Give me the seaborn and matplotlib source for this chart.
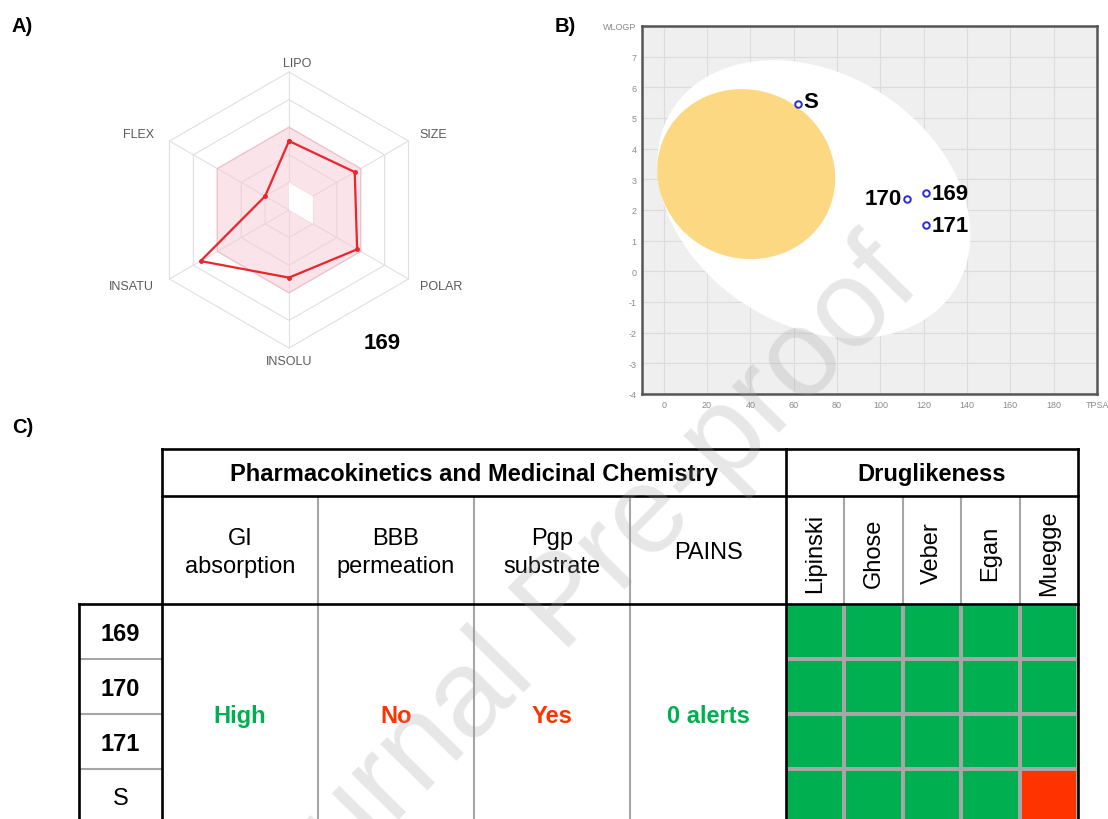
import numpy as np
import pandas as pd
import matplotlib
matplotlib.use("Agg")
import matplotlib.pyplot as plt
from matplotlib.colors import ListedColormap
from matplotlib.patches import Polygon
import seaborn as sns

# ---- data -------------------------------------------------------------
RADAR_AXES = ["LIPO", "SIZE", "POLAR", "INSOLU", "INSATU", "FLEX"]
RADAR_169 = [0.50, 0.55, 0.57, 0.49, 0.74, 0.20]
OPT_LOW = [0.2, 0.2, 0.2, 0.0, 0.0, 0.0]
OPT_HIGH = [0.6, 0.6, 0.6, 0.6, 0.6, 0.6]
RADAR_NAME = "169"

EGG_LABELS = ["S", "170", "169", "171"]
EGG_TPSA = [61.8, 112.3, 121.0, 121.0]
EGG_WLOGP = [5.45, 2.36, 2.54, 1.50]

COMPOUNDS = ["169", "170", "171", "S"]
PK_HEADERS = ["GI\nabsorption", "BBB\npermeation", "Pgp\nsubstrate", "PAINS"]
PK_VALUES = ["High", "No", "Yes", "0 alerts"]
PK_GOOD = [True, False, False, True]
DL_RULES = ["Lipinski", "Ghose", "Veber", "Egan", "Muegge"]
LIPINSKI = [1, 1, 1, 1]
GHOSE = [1, 1, 1, 1]
VEBER = [1, 1, 1, 1]
EGAN = [1, 1, 1, 1]
MUEGGE = [1, 1, 1, 0]

GREEN = "#00b050"
RED = "#ff3300"

W, H = 1108, 820


def box(l, t, r, b):
    return [l / W, 1 - b / H, (r - l) / W, (b - t) / H]


sns.set_theme(style="white")
plt.rcParams["font.family"] = ["Liberation Sans", "DejaVu Sans"]
plt.rcParams["text.color"] = "black"

fig = plt.figure(figsize=(W / 100, H / 100), dpi=100)

# ---- A) bioavailability radar ----------------------------------------
cx, cy, rpx = 289, 211, 138
axr = fig.add_axes(box(60, 40, 520, 392))
axr.set_xlim((60 - cx) / rpx, (520 - cx) / rpx)
axr.set_ylim((cy - 392) / rpx, (cy - 40) / rpx)
axr.axis("off")
ang = np.deg2rad([90, 30, -30, -90, -150, 150])
ux, uy = np.cos(ang), np.sin(ang)


def hexa(r):
    r = np.asarray(r, dtype=float) * np.ones(6)
    return np.column_stack([r * ux, r * uy])


for r in [0.2, 0.4, 0.6, 0.8, 1.0]:
    p = hexa(r)
    axr.plot(np.r_[p[:, 0], p[0, 0]], np.r_[p[:, 1], p[0, 1]], color="#e0e0e0", lw=0.8, zorder=1)
for i in range(6):
    axr.plot([0, ux[i]], [0, uy[i]], color="#e0e0e0", lw=0.8, zorder=1)
axr.add_patch(Polygon(hexa(OPT_HIGH), closed=True, facecolor="#f9c9d6", alpha=0.5,
                      edgecolor="#f2a9bb", lw=1, zorder=2))
axr.add_patch(Polygon(hexa(OPT_LOW), closed=True, facecolor="white", edgecolor="none", zorder=3))
pts = hexa(RADAR_169)
axr.plot(np.r_[pts[:, 0], pts[0, 0]], np.r_[pts[:, 1], pts[0, 1]], color="#e8262b",
         lw=1.6, marker="o", ms=2.5, zorder=4)
for i, lab in enumerate(RADAR_AXES):
    x, y = ux[i], uy[i]
    if abs(x) < 0.1:
        if y > 0:
            axr.text(x + 0.06, y + 0.02, lab, ha="center", va="bottom", fontsize=9, color="#5a5a5a")
        else:
            axr.text(x, y - 0.05, lab, ha="center", va="top", fontsize=9, color="#5a5a5a")
    else:
        axr.text(x + (0.08 if x > 0 else -0.11), y + (0.05 if y > 0 else -0.05), lab,
                 ha="left" if x > 0 else "right", va="center", fontsize=9, color="#5a5a5a")
axr.text((382 - cx) / rpx, (cy - 344) / rpx, RADAR_NAME, ha="center", va="center",
         fontsize=16, fontweight="bold", color="black")

# ---- B) BOILED-Egg ------------------------------------------------------
axe = fig.add_axes(box(642, 27, 1097, 395))
xlim, ylim = (-10, 200), (-4, 8)
axe.set_xlim(*xlim)
axe.set_ylim(*ylim)
px_x = (1097 - 642) / (xlim[1] - xlim[0])
px_y = (395 - 27) / (ylim[1] - ylim[0])
axe.set_facecolor("#efefef")
axe.set_xticks(range(0, 201, 20))
axe.set_xticklabels([str(v) for v in range(0, 181, 20)] + ["TPSA"])
axe.set_yticks(range(-4, 9))
axe.set_yticklabels([str(v) for v in range(-4, 8)] + ["WLOGP"])
axe.grid(True, color="#dcdcdc", lw=0.8)
axe.set_axisbelow(True)
axe.tick_params(length=0, labelsize=6.5, labelcolor="#8a8a8a", pad=4)
for s in axe.spines.values():
    s.set_color("#555555")
    s.set_linewidth(1.8)


def egg_region(cxd, cyd, a, b, theta, color):
    t = np.linspace(0, 2 * np.pi, 200)
    th = np.deg2rad(theta)
    u = a * np.cos(t) * np.cos(th) - b * np.sin(t) * np.sin(th)
    v = a * np.cos(t) * np.sin(th) + b * np.sin(t) * np.cos(th)
    axe.add_patch(Polygon(np.column_stack([cxd + u / px_x, cyd + v / px_y]),
                          closed=True, facecolor=color, edgecolor="none", zorder=1))


egg_region(69.3, 2.35, 167.5, 125.6, -32.6, "white")
egg_region(38.1, 3.17, 89.9, 84.0, -23.7, "#fcd883")

egg = pd.DataFrame({"TPSA": EGG_TPSA, "WLOGP": EGG_WLOGP, "name": EGG_LABELS})
sns.scatterplot(data=egg, x="TPSA", y="WLOGP", ax=axe, s=22, facecolor="white",
                edgecolor="#2b2bd6", linewidth=1.4, zorder=5)
axe.set_xlabel("")
axe.set_ylabel("")
for _, row in egg.iterrows():
    left = row["name"] == "170"
    axe.annotate(row["name"], (row["TPSA"], row["WLOGP"]),
                 xytext=(-4 if left else 4, 2 if row["name"] == "S" else 0),
                 textcoords="offset points", ha="right" if left else "left", va="center",
                 fontsize=16, fontweight="bold", color="black", zorder=6)

# ---- C) table -----------------------------------------------------------
hax = fig.add_axes(box(786, 605, 1078, 825))
dl = pd.DataFrame({"Lipinski": LIPINSKI, "Ghose": GHOSE, "Veber": VEBER,
                   "Egan": EGAN, "Muegge": MUEGGE}, index=COMPOUNDS)[DL_RULES]
sns.heatmap(dl, ax=hax, cmap=ListedColormap([RED, GREEN]), vmin=0, vmax=1, cbar=False,
            linewidths=1.6, linecolor="#a6a6a6", xticklabels=False, yticklabels=False)
hax.set_xlabel("")
hax.set_ylabel("")

tax = fig.add_axes([0, 0, 1, 1])
tax.set_xlim(0, W)
tax.set_ylim(H, 0)
tax.axis("off")
tax.patch.set_alpha(0)
tax.set_zorder(5)

BLK = dict(color="black", lw=1.9, solid_capstyle="projecting", zorder=3)
GRY = dict(color="#a6a6a6", lw=1.5, solid_capstyle="butt", zorder=2)
pk_x = [162, 318, 474, 630, 786]
dl_x = np.linspace(786, 1078, len(DL_RULES) + 1)
row_y = [605, 660, 715, 770, 825]

for x in pk_x[1:-1]:
    tax.plot([x, x], [497, H], **GRY)
for x in dl_x[1:-1]:
    tax.plot([x, x], [497, 605], **GRY)
for y in row_y[1:-1]:
    tax.plot([79, 162], [y, y], **GRY)
tax.plot([162, 1078], [450, 450], **BLK)
tax.plot([162, 1078], [497, 497], **BLK)
tax.plot([79, 1078], [605, 605], **BLK)
tax.plot([162, 162], [450, H], **BLK)
tax.plot([786, 786], [450, H], **BLK)
tax.plot([1078, 1078], [450, H], **BLK)
tax.plot([79, 79], [605, H], **BLK)

tfs = 17
tax.text(474, 475, "Pharmacokinetics and Medicinal Chemistry", ha="center", va="center",
         fontsize=tfs, fontweight="bold", color="black")
tax.text(932, 475, "Druglikeness", ha="center", va="center", fontsize=tfs,
         fontweight="bold", color="black")
for i, h in enumerate(PK_HEADERS):
    xc = (pk_x[i] + pk_x[i + 1]) / 2
    tax.text(xc, 553, h, ha="center", va="center", fontsize=tfs, linespacing=1.3, color="black")
    tax.text(xc, 717, PK_VALUES[i], ha="center", va="center", fontsize=tfs,
             fontweight="bold", color=GREEN if PK_GOOD[i] else RED)
for i, rule in enumerate(DL_RULES):
    xc = (dl_x[i] + dl_x[i + 1]) / 2
    tax.text(xc, 553, rule, ha="center", va="center", rotation=90, fontsize=tfs, color="black")
for i, c in enumerate(COMPOUNDS):
    yc = (row_y[i] + row_y[i + 1]) / 2
    tax.text(120.5, yc + 2, c, ha="center", va="center", fontsize=tfs, color="black",
             fontweight="normal" if c == "S" else "bold")

# panel letters
for lab, (x, y) in {"A)": (12, 26), "B)": (555, 27), "C)": (12, 428)}.items():
    tax.text(x, y, lab, ha="left", va="center", fontsize=14.5, fontweight="bold", color="black")

fig.text(565 / W, 1 - 605 / H, "Journal Pre-proof", rotation=45.5, fontsize=89,
         color="#a0a0a0", alpha=0.25, ha="center", va="center", rotation_mode="anchor", zorder=100)

fig.savefig("out.png", dpi=100)
